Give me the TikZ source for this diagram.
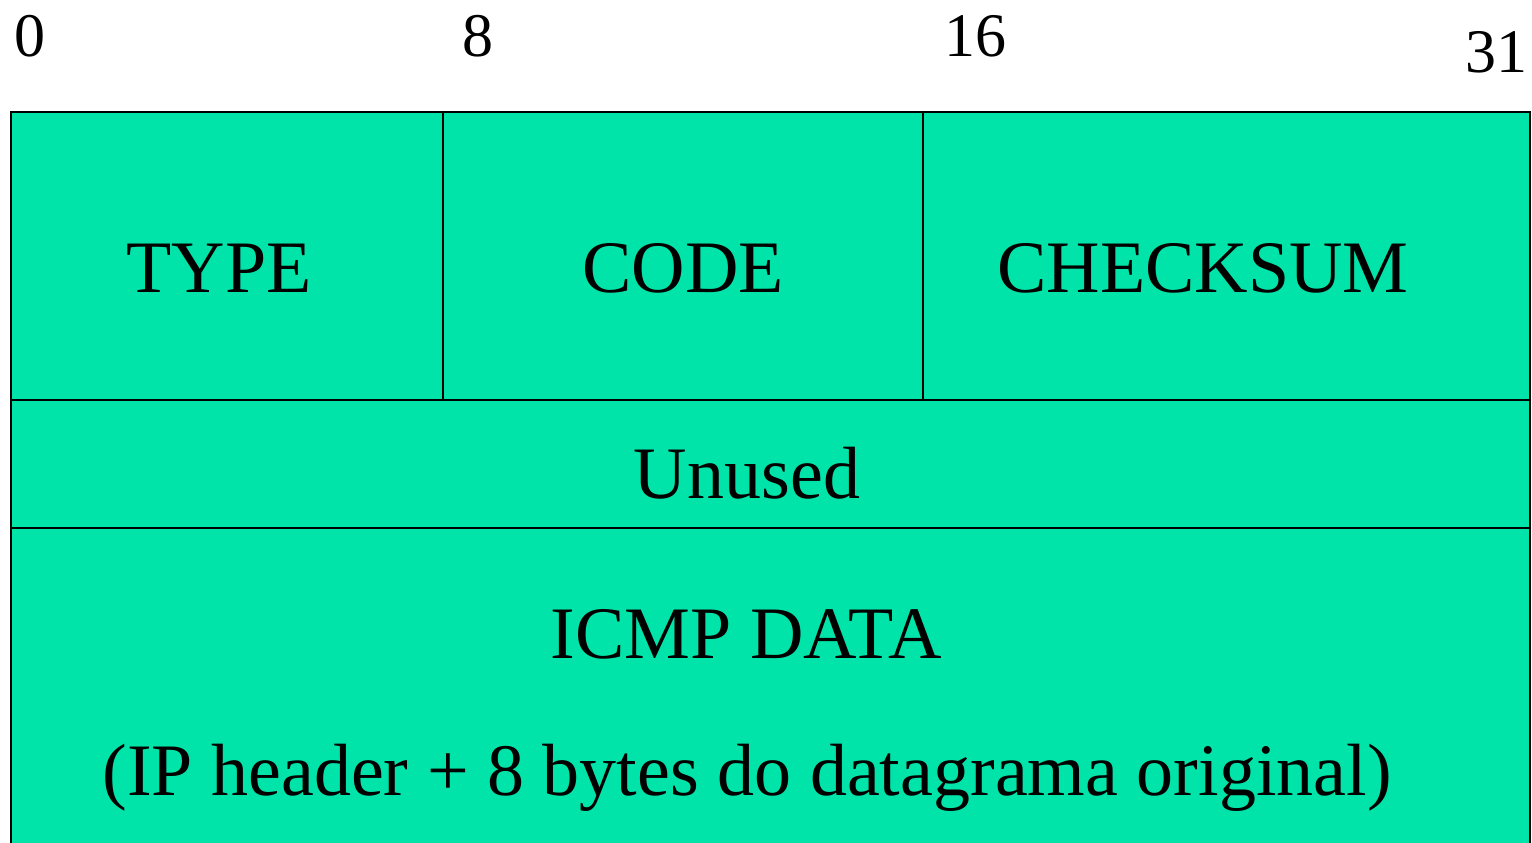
\documentclass[tikz,border=0pt]{standalone}
\usepackage{fontspec}
\setmainfont{Liberation Serif}
\definecolor{fieldgreen}{RGB}{0,228,170}
\tikzset{
  field/.style={fill=fieldgreen, draw=black, line width=2.2pt},
  label/.style={anchor=base, inner sep=0pt, font=\fontsize{74}{89}\selectfont},
  bitnum/.style={anchor=base, inner sep=0pt, font=\fontsize{62}{74}\selectfont},
}
\begin{document}
\begin{tikzpicture}[x=1pt,y=-1pt]
  \useasboundingbox (0,0) rectangle (1532,843);
  \fill[white] (0,0) rectangle (1532,843);

  % header words
  \draw[field] (11,112) rectangle (443,400);
  \draw[field] (443,112) rectangle (923,400);
  \draw[field] (923,112) rectangle (1530,400);
  \draw[field] (11,400) rectangle (1530,528);
  \draw[field] (11,528) rectangle (1530,870);

  % bit positions
  \node[bitnum, anchor=base west] (b0) at (14,57) {0};
  \node[bitnum] (b8) at (478,57) {8};
  \node[bitnum] (b16) at (975,57) {16};
  \node[bitnum] (b31) at (1496,73) {31};

  % field labels
  \node[label] (type) at (219,292) {TYPE};
  \node[label] (code) at (683,292) {CODE};
  \node[label] (checksum) at (1203,292) {CHECKSUM};
  \node[label] (unused) at (747,498) {Unused};
  \node[label] (data) at (746,658) {ICMP DATA};
  \node[label] (datadesc) at (747,795) {(IP header + 8 bytes do datagrama original)};
\end{tikzpicture}
\end{document}
